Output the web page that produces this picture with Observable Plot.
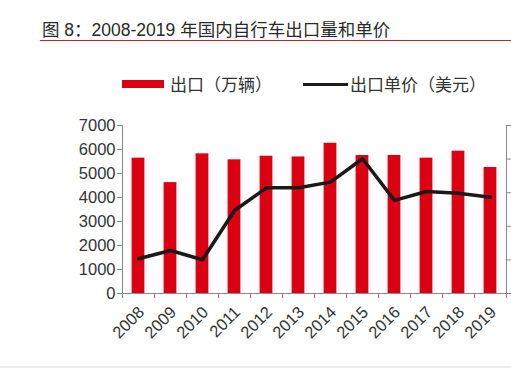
<!DOCTYPE html>
<html><head><meta charset="utf-8">
<script src="https://cdn.jsdelivr.net/npm/d3@7"></script>
<script src="https://cdn.jsdelivr.net/npm/@observablehq/plot@0.6"></script>
<style>
html,body{margin:0;padding:0;background:#fff;overflow:hidden;}
#wrap{position:relative;width:511px;height:368px;font-family:"Liberation Sans",Arial,"Noto Sans CJK SC",sans-serif;color:#333;}
#title{position:absolute;left:42px;top:20px;font-size:17.5px;line-height:20px;white-space:nowrap;color:#2a2a2a;font-family:"Liberation Sans","Noto Sans CJK SC",sans-serif;}
#uline{position:absolute;left:40px;right:0;top:40px;height:1px;background:#d0202a;}
.leg{position:absolute;top:74px;line-height:20px;font-size:17px;white-space:nowrap;color:#333;font-family:"Noto Sans CJK SC",sans-serif;}
.sw{position:absolute;}
#chart{position:absolute;left:0;top:110px;}
#chart svg, #chart svg text{font-family:"Liberation Sans",Arial,sans-serif !important;}
#foot{position:absolute;left:0;right:0;top:366px;height:2px;background:#f2e9e9;}
</style></head>
<body><div id="wrap">
<div id="title">图 8：2008-2019 年国内自行车出口量和单价</div>
<div id="uline"></div>
<div class="sw" style="left:122px;top:80px;width:42px;height:8px;background:#dc0010;"></div>
<div class="leg" style="left:170px;">出口（万辆）</div>
<div class="sw" style="left:303px;top:83px;width:45px;height:3px;background:#1a1a1a;"></div>
<div class="leg" style="left:350px;">出口单价（美元）</div>
<div id="chart"></div>
<div id="foot"></div>
</div>
<script>
const years = [2008,2009,2010,2011,2012,2013,2014,2015,2016,2017,2018,2019];
const exportVolume = [5640,4620,5820,5570,5720,5690,6260,5750,5750,5640,5930,5250];
const unitPrice = [20.7,25.6,20.1,49.4,62.9,62.9,66.3,80.2,55.4,60.7,59.7,57.3];
const leftTicks = [0,1000,2000,3000,4000,5000,6000,7000];
const rightTicks = [0,20,40,60,80,100];
const rightMax = 100, leftMax = 7000;
const k = leftMax / rightMax;

const bars = years.map((y,i) => ({year:y, v:exportVolume[i]}));
const line = years.map((y,i) => ({year:y, p:unitPrice[i]*k}));
const bounds = [years[0]-0.5, ...years.map(y => y+0.5)];

const plot = Plot.plot({
  width:511, height:250,
  marginLeft:122, marginRight:5, marginTop:15, marginBottom:67,
  style:{fontSize:"16px", color:"#333", background:"transparent"},
  x:{type:"linear", domain:[years[0]-0.5, years[years.length-1]+0.5], axis:null},
  y:{domain:[0,leftMax], axis:null},
  marks:[
    Plot.rectY(bars,{x1:d=>d.year-0.2, x2:d=>d.year+0.2, y1:0, y2:"v", fill:"#dc0010"}),
    Plot.line(line,{x:"year", y:"p", stroke:"#1a1a1a", strokeWidth:3.5, strokeLinejoin:"round"}),
    Plot.ruleX([bounds[0]],{y1:0,y2:leftMax, stroke:"#888"}),
    Plot.ruleX([bounds[bounds.length-1]],{y1:0,y2:leftMax, stroke:"#888"}),
    Plot.ruleY([0],{stroke:"#888"}),
    Plot.axisY({anchor:"left", ticks:leftTicks, tickSize:5, tickPadding:2, tickFormat:d=>String(d), label:null, fontSize:16.5, stroke:"#888", fill:"#333"}),
    Plot.axisY({anchor:"right", ticks:rightTicks.map(t=>t*k), tickSize:5, tickFormat:()=>"", label:null, stroke:"#888"}),
    Plot.axisX({ticks:bounds, tickSize:5, tickFormat:()=>"", label:null, stroke:"#888"}),
    Plot.axisX({ticks:years, tickSize:0, tickRotate:-45, tickFormat:d=>String(d), label:null, fontSize:16.5, fill:"#333", tickPadding:8, dy:8, dx:3})
  ]
});
document.getElementById("chart").appendChild(plot);
</script>
</body></html>
